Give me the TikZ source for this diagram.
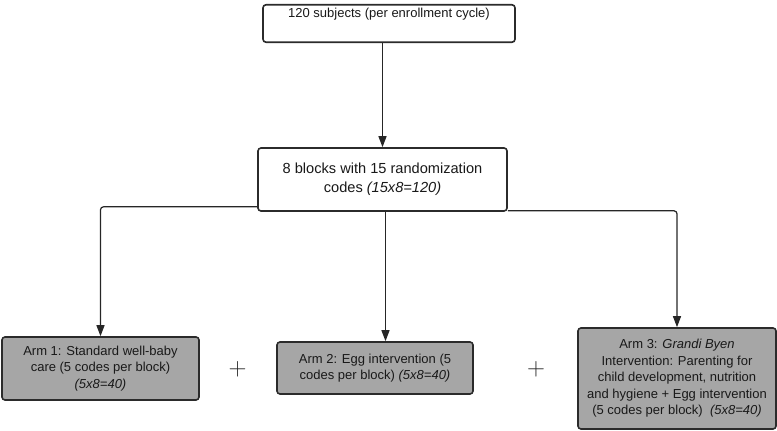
\documentclass[tikz,border=0pt]{standalone}
\usepackage{fontspec}
\setmainfont{Liberation Sans}
\usepackage{xcolor}
\usepackage{tikz}
\usetikzlibrary{arrows.meta}
\definecolor{armgray}{HTML}{A6A6A6}
\definecolor{edgegray}{HTML}{2B2B2B}
\colorlet{txt}{black!90}
\tikzstyle{bx}=[draw=edgegray,line width=1.6pt,rounded corners=3pt,align=center,
  inner sep=0pt,text=txt,font=\fontsize{13}{16.5}\selectfont]
\tikzstyle{wbx}=[bx,fill=white]
\tikzstyle{arm}=[bx,fill=armgray]
\tikzstyle{flow}=[line width=1.2pt,draw=black!85,rounded corners=3pt,
  -{Triangle[length=11pt,width=8pt]}]
\tikzstyle{plus}=[font=\fontsize{33}{33}\selectfont,text=black!85]
\begin{document}
\begin{tikzpicture}[x=1pt,y=1pt]
	\useasboundingbox (0,0) rectangle (777,431);
	% boxes
	\node[wbx,minimum width=252pt,minimum height=36pt,anchor=north,inner ysep=3pt,text depth=22pt]
	  (subj) at (389,427) {120 subjects (per enrollment cycle)};
	\node[wbx,minimum width=249pt,minimum height=63pt,font=\fontsize{14.6}{19}\selectfont]
	  (blocks) at (382.5,251.5)
	  {8 blocks with 15 randomization\\ codes \textit{(15x8=120)}};
	\node[arm,minimum width=197pt,minimum height=63pt] (arma) at (100.5,62.5)
	  {Arm 1: Standard well-baby\\ care (5 codes per block)\\ \textit{(5x8=40)}};
	\node[arm,minimum width=196pt,minimum height=52pt] (armb) at (375,63)
	  {Arm 2: Egg intervention (5\\ codes per block) \textit{(5x8=40)}};
	\node[arm,minimum width=198pt,minimum height=101pt] (armc) at (677,52.5)
	  {Arm 3: \textit{Grandi Byen}\\ Intervention: Parenting for\\ child development, nutrition\\
	   and hygiene + Egg intervention\\ (5 codes per block)\ \ \textit{(5x8=40)}};
	\node[plus] (pa) at (237.5,62) {$+$};
	\node[plus] (pb) at (536,62) {$+$};
	% connectors
	\draw[flow] (blocks.north |- subj.south) -- (blocks.north);
	\draw[flow] ([yshift=5pt]blocks.south west) -| (arma.north);
	\draw[flow] ([xshift=3pt]blocks.south) -- ([xshift=3pt]blocks.south |- armb.north);
	\draw[flow] ([yshift=1pt]blocks.south east) -| (armc.north);
\end{tikzpicture}
\end{document}
